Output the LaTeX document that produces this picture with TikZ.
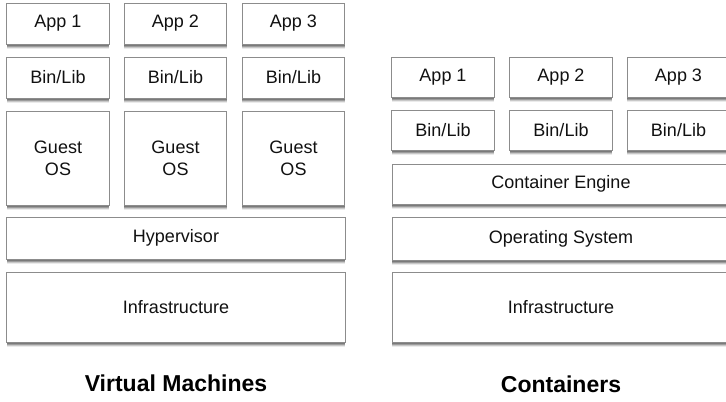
\documentclass[tikz,border=0pt]{standalone}
\usepackage{fontspec}
\setmainfont{Liberation Sans}
\definecolor{edgegray}{HTML}{8C8C8C}
\definecolor{inkblack}{HTML}{111111}
\tikzset{
  x=1bp, y=-1bp,
  layer/.style={
    draw=edgegray, line width=1bp, fill=white, text=inkblack,
    inner sep=0pt, align=center,
    font=\fontsize{18bp}{22bp}\selectfont,
    preaction={fill=black, opacity=.22, transform canvas={yshift=-1.5bp}},
    preaction={fill=black, opacity=.22, transform canvas={yshift=-2.5bp}},
    preaction={fill=black, opacity=.15, transform canvas={yshift=-3.5bp}},
    preaction={fill=black, opacity=.08, transform canvas={yshift=-4.5bp}}
  },
  small/.style={layer, minimum width=102.5bp},
  wide/.style={layer, minimum width=338bp},
  caption/.style={font=\bfseries\fontsize{23bp}{26bp}\selectfont, text=black, inner sep=0pt}
}
\begin{document}
\begin{tikzpicture}
\useasboundingbox (0,0) rectangle (726,401);
\clip (0,0) rectangle (726,401);

% virtual machine stack
\node[small, minimum height=41bp] (vmapp1) at (58,23.5) {App 1};
\node[small, minimum height=41bp] (vmapp2) at (175.5,23.5) {App 2};
\node[small, minimum height=41bp] (vmapp3) at (293.5,23.5) {App 3};
\node[small, minimum height=41bp] (vmbin1) at (58,77.5) {Bin/Lib};
\node[small, minimum height=41bp] (vmbin2) at (175.5,77.5) {Bin/Lib};
\node[small, minimum height=41bp] (vmbin3) at (293.5,77.5) {Bin/Lib};
\node[small, minimum height=94bp] (guest1) at (58,158) {Guest\\OS};
\node[small, minimum height=94bp] (guest2) at (175.5,158) {Guest\\OS};
\node[small, minimum height=94bp] (guest3) at (293.5,158) {Guest\\OS};
\node[wide, minimum height=42bp] (hyper) at (176,238) {Hypervisor};
\node[wide, minimum height=70bp] (vminfra) at (176,307) {Infrastructure};
\node[caption] (vmtitle) at (176,383) {Virtual Machines};

% container stack
\node[small, minimum height=40bp] (ctapp1) at (443,77) {App 1};
\node[small, minimum height=40bp] (ctapp2) at (561,77) {App 2};
\node[small, minimum height=40bp] (ctapp3) at (678.5,77) {App 3};
\node[small, minimum height=40bp] (ctbin1) at (443,130) {Bin/Lib};
\node[small, minimum height=40bp] (ctbin2) at (561,130) {Bin/Lib};
\node[small, minimum height=40bp] (ctbin3) at (678.5,130) {Bin/Lib};
\node[wide, minimum height=40bp] (engine) at (561,184) {Container Engine};
\node[wide, minimum height=43bp] (os) at (561,238.5) {Operating System};
\node[wide, minimum height=70bp] (ctinfra) at (561,307) {Infrastructure};
\node[caption] (cttitle) at (561,384) {Containers};
\end{tikzpicture}
\end{document}
